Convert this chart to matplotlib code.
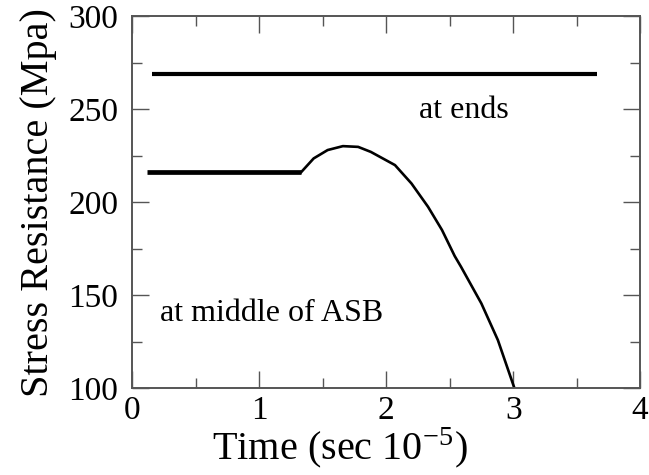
import matplotlib
matplotlib.use('Agg')
import matplotlib.pyplot as plt
from matplotlib.ticker import MultipleLocator

plt.rcParams['font.family'] = ['Liberation Serif', 'DejaVu Serif']
plt.rcParams['mathtext.fontset'] = 'stix'

# stress resistance at the ends of the specimen (constant)
ends_time = [0.16, 3.66]
ends_stress = [269, 269]

# stress resistance at the middle of the ASB: plateau, then hardening and softening
plateau_time = [0.12, 1.33]
plateau_stress = [216, 216]
soft_time = [1.33, 1.43, 1.54, 1.66, 1.78, 1.88, 2.07, 2.20, 2.33, 2.44,
             2.54, 2.59, 2.75, 2.88, 3.01]
soft_stress = [216, 223.5, 228, 230.1, 229.7, 227, 219.9, 210, 197.5, 185,
               171, 165.2, 145.5, 125.8, 100]

fig = plt.figure(figsize=(6.49, 4.75), dpi=100)
ax = fig.add_axes([0.2034, 0.183, 0.783, 0.783])

ax.plot(ends_time, ends_stress, color='black', lw=3.0, solid_capstyle='butt')
ax.plot(plateau_time, plateau_stress, color='black', lw=3.4, solid_capstyle='butt')
ax.plot(soft_time, soft_stress, color='black', lw=1.9)

ax.text(2.26, 249.5, 'at ends', fontsize=23, ha='left', va='center')
ax.text(0.22, 140, 'at middle of ASB', fontsize=23, ha='left', va='center')

ax.set_xlim(0, 4)
ax.set_ylim(100, 300)
ax.xaxis.set_major_locator(MultipleLocator(1))
ax.xaxis.set_minor_locator(MultipleLocator(0.5))
ax.yaxis.set_major_locator(MultipleLocator(50))
ax.yaxis.set_minor_locator(MultipleLocator(25))
ax.tick_params(which='both', direction='in', top=True, right=True,
               color='#555555', width=1.0)
ax.tick_params(which='major', length=12, labelsize=24)
ax.tick_params(axis='x', which='major', pad=5)
ax.tick_params(axis='y', which='major', pad=10)
ax.tick_params(which='minor', length=7)
for s in ax.spines.values():
    s.set_color('#555555')
    s.set_linewidth(1.4)

ax.set_xlabel(r'Time (sec 10$^{\mathregular{-5}}$)', fontsize=29, labelpad=0, x=0.41)
ax.set_ylabel('Stress Resistance (Mpa)', fontsize=29, labelpad=8)

fig.savefig('out.png', dpi=100)
